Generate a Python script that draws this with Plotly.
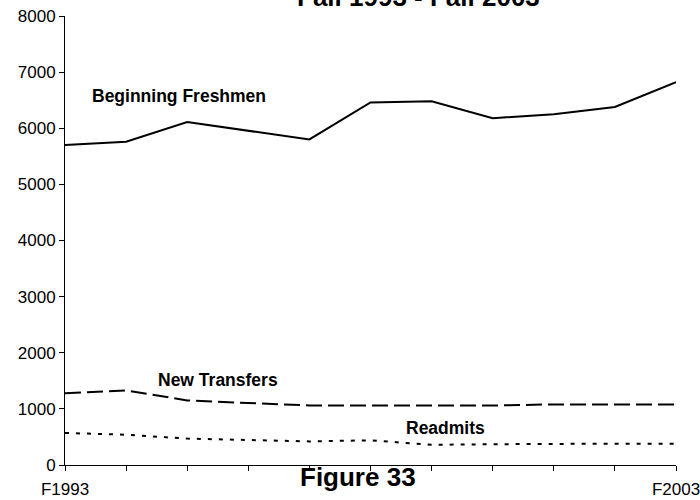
import plotly.graph_objects as go

years = ["F1993", "F1994", "F1995", "F1996", "F1997", "F1998", "F1999", "F2000", "F2001", "F2002", "F2003"]
tick_labels = ["F1993", "", "", "", "", "", "", "", "", "", "F2003"]
freshmen = [5700, 5760, 6110, 5950, 5800, 6460, 6480, 6180, 6250, 6380, 6820]
transfers = [1280, 1330, 1150, 1100, 1060, 1060, 1060, 1060, 1080, 1080, 1080]
readmits = [570, 540, 470, 450, 420, 440, 360, 370, 380, 380, 380]

x = list(range(len(years)))
FONT = "Arial, Liberation Sans, sans-serif"

# plot area: x 65..676, y 16..465 (pixels)
L, R, T, B = 65, 24, 16, 35
PW, PH = 700 - L - R, 500 - T - B


def px(xp):
    return (xp - L) / PW


def py(yp):
    return (500 - B - yp) / PH


fig = go.Figure()
fig.add_trace(go.Scatter(x=x, y=freshmen, mode="lines", name="Beginning Freshmen",
                         line=dict(color="black", width=2)))
fig.add_trace(go.Scatter(x=x, y=transfers, mode="lines", name="New Transfers",
                         line=dict(color="black", width=2, dash="16px,6px")))
fig.add_trace(go.Scatter(x=x, y=readmits, mode="lines", name="Readmits",
                         line=dict(color="black", width=2, dash="4px,7px")))

fig.update_layout(
    width=700, height=500,
    margin=dict(l=L, r=R, t=T, b=B),
    paper_bgcolor="white", plot_bgcolor="white",
    showlegend=False,
    font=dict(family=FONT, size=17, color="black"),
    xaxis=dict(range=[0, 10], tickvals=x, ticktext=tick_labels, showline=True,
               linecolor="black", linewidth=1, ticks="outside", ticklen=5,
               tickcolor="black", showgrid=False, zeroline=False, automargin=False,
               ticklabelstandoff=4, ticklabeloverflow="allow", tickfont=dict(size=17)),
    yaxis=dict(range=[0, 8000], dtick=1000, showline=True, linecolor="black",
               linewidth=1, ticks="outside", ticklen=5, tickcolor="black",
               showgrid=False, zeroline=False, automargin=False,
               tickfont=dict(size=17)),
    annotations=[
        dict(text="<b>Fall 1993 - Fall 2003</b>", xref="paper", yref="paper",
             x=px(418), y=py(14), xanchor="center", yanchor="bottom",
             showarrow=False, font=dict(size=26)),
        dict(text="<b>Figure 33</b>", xref="paper", yref="paper",
             x=px(358), y=py(477), xanchor="center", yanchor="middle",
             showarrow=False, font=dict(size=26)),
        dict(text="<b>Beginning Freshmen</b>", xref="paper", yref="paper",
             x=px(90), y=py(96), xanchor="left",
             yanchor="middle", showarrow=False, font=dict(size=17.5)),
        dict(text="<b>New Transfers</b>", xref="paper", yref="paper",
             x=px(156), y=py(380), xanchor="left",
             yanchor="middle", showarrow=False, font=dict(size=17.5)),
        dict(text="<b>Readmits</b>", xref="paper", yref="paper",
             x=px(404), y=py(428), xanchor="left",
             yanchor="middle", showarrow=False, font=dict(size=17.5)),
    ],
)

fig.write_html("out.html", config={"displayModeBar": False},
               post_script="document.body.style.margin='0';document.body.style.overflow='hidden';")
